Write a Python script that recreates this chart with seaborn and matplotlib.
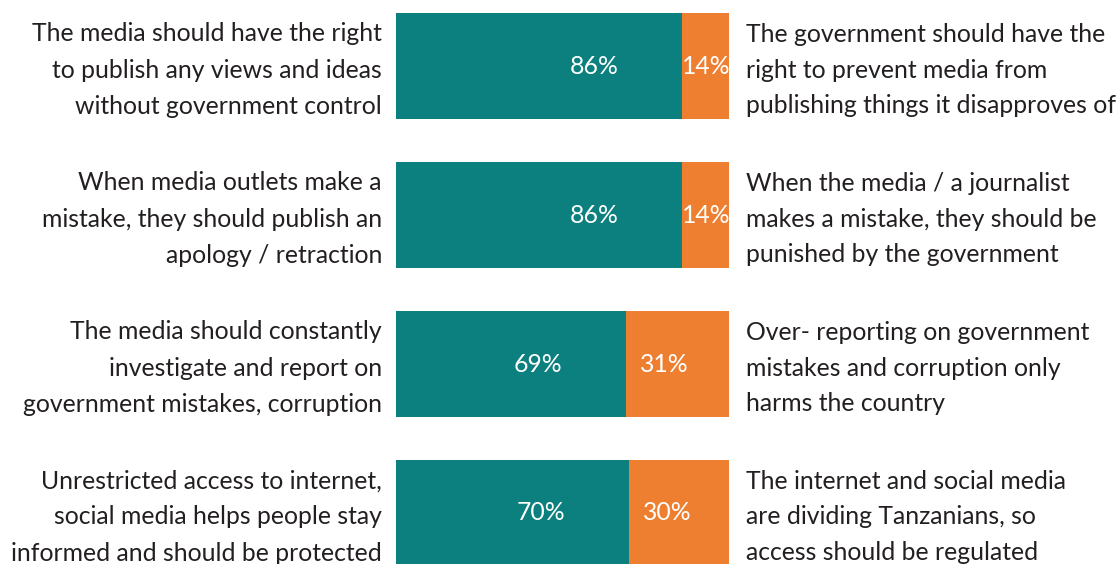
import matplotlib
matplotlib.use("Agg")
import matplotlib.pyplot as plt
import seaborn as sns
import pandas as pd

# Statement pairs and the share of respondents agreeing with each side
left_statements = [
    "The media should have the right\nto publish any views and ideas\nwithout government control",
    "When media outlets make a\nmistake, they should publish an\napology / retraction",
    "The media should constantly\ninvestigate and report on\ngovernment mistakes, corruption",
    "Unrestricted access to internet,\nsocial media helps people stay\ninformed and should be protected",
]
right_statements = [
    "The government should have the\nright to prevent media from\npublishing things it disapproves of",
    "When the media / a journalist\nmakes a mistake, they should be\npunished by the government",
    "Over- reporting on government\nmistakes and corruption only\nharms the country",
    "The internet and social media\nare dividing Tanzanians, so\naccess should be regulated",
]
agree_left = [86, 86, 69, 70]
agree_right = [14, 14, 31, 30]

TEAL = "#0b807e"
ORANGE = "#ee7f31"
TEXT = "#231f20"

sns.set_theme(style="white")
plt.rcParams["font.family"] = ["Lato", "DejaVu Sans"]

df = pd.DataFrame({
    "row": [f"r{i}" for i in range(len(agree_left))],
    "left": agree_left,
    "right": agree_right,
})
df["total"] = df["left"] + df["right"]

fig = plt.figure(figsize=(11.18, 5.64), dpi=100)
W, H = 1118, 564
x0, x1 = 396, 729
pitch = 149
top = 66 - pitch / 2
ax = fig.add_axes([x0 / W, 1 - (top + 4 * pitch) / H, (x1 - x0) / W, 4 * pitch / H])

sns.barplot(data=df, y="row", x="total", orient="h", color=ORANGE,
            width=0.71, saturation=1, ax=ax)
sns.barplot(data=df, y="row", x="left", orient="h", color=TEAL,
            width=0.71, saturation=1, ax=ax)
for p in ax.patches:
    p.set_edgecolor("none")

ax.set_xlim(0, 100)
ax.set_ylim(3.5, -0.5)
ax.axis("off")

fs = 17.8
for i, (l, r) in enumerate(zip(agree_left, agree_right)):
    ax.text(l - 26.5, i, f"{l}%", color="white", fontsize=fs, ha="center", va="center")
    ax.text(l + min(r / 2, 11.5), i, f"{r}%", color="white", fontsize=fs,
            ha="center", va="center")
    ax.annotate(left_statements[i], xy=(0, i), xycoords="data",
                xytext=(-14, -4), textcoords="offset pixels",
                ha="right", va="center", fontsize=fs, color=TEXT,
                linespacing=1.70, annotation_clip=False)
    ax.annotate(right_statements[i], xy=(100, i), xycoords="data",
                xytext=(17, -4), textcoords="offset pixels",
                ha="left", va="center", fontsize=fs, color=TEXT,
                linespacing=1.66, annotation_clip=False)

fig.savefig("out.png", dpi=100)
